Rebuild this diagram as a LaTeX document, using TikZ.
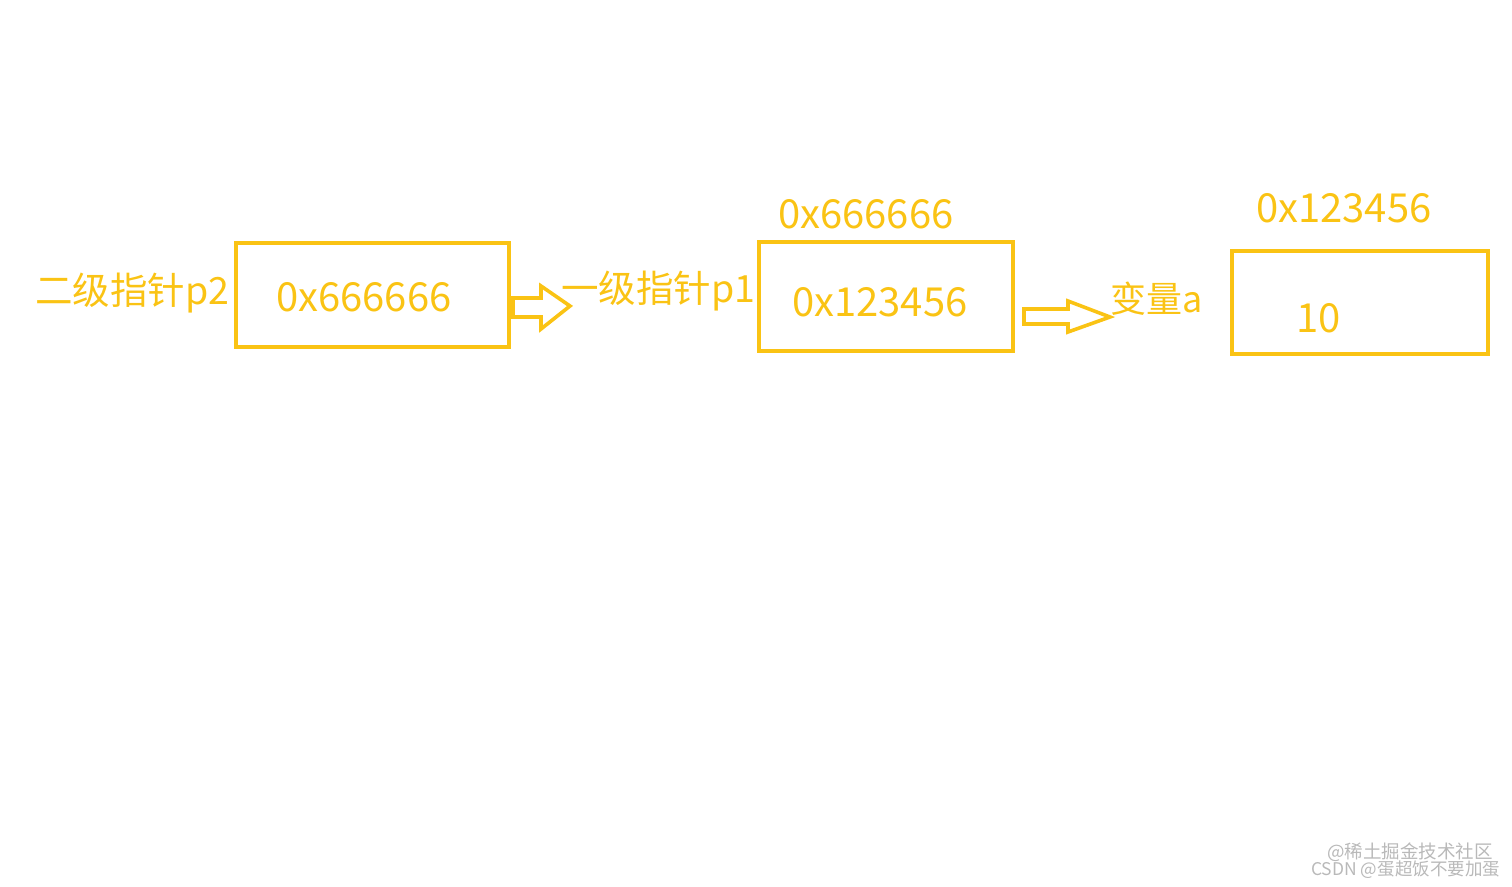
\documentclass[tikz,border=0pt]{standalone}
\usepackage{fontspec}
\setmainfont{Noto Sans CJK SC}
\newfontfamily\cjkf{Noto Sans CJK SC}
\definecolor{ylw}{RGB}{250,195,20}
\definecolor{wm}{RGB}{185,185,185}
\begin{document}
\begin{tikzpicture}[x=1pt,y=-1pt,
  box/.style={draw=ylw,line width=3.6pt},
  lbl/.style={text=ylw,inner sep=0pt,anchor=base west,font=\fontsize{40}{40}\selectfont},
  cjl/.style={lbl,font=\fontsize{37.5}{37.5}\selectfont},
  blk/.style={draw=ylw,line width=3.6pt,line join=miter,fill=white},
  wmk/.style={text=wm,inner sep=0pt,anchor=base west,font=\fontsize{17.5}{17.5}\selectfont}]
\useasboundingbox (0,0) rectangle (1512,886);
% boxes
\draw[box] (236,243) rectangle (509,347);
\draw[box] (759,242) rectangle (1013,351);
\draw[box] (1232,251) rectangle (1488,354);
% labels
\node[cjl] (p2) at (35,304) {二级指针p2};
\node[lbl] (v1) at (276,311) {0x666666};
\node[cjl] (p1) at (561,302) {一级指针p1};
\node[lbl] (a2) at (778,228) {0x666666};
\node[lbl] (v2) at (792,316) {0x123456};
\node[lbl,font=\fontsize{36}{36}\selectfont] (va) at (1110,312) {变量a};
\node[lbl] (a3) at (1256,222) {0x123456};
\node[lbl] (v3) at (1296,332) {10};
% block arrows
\draw[blk] (513,298) -- (541,298) -- (541,286) -- (570,306) -- (541,329) -- (541,317) -- (513,317) -- cycle;
\draw[blk] (1024,309) -- (1068,309) -- (1068,301) -- (1110,317) -- (1068,332) -- (1068,324) -- (1024,324) -- cycle;
% watermark
\node[wmk,font=\fontsize{18.5}{18.5}\selectfont] (w1) at (1327,858) {@稀土掘金技术社区};
\node[wmk] (w2) at (1311,875) {CSDN @蛋超饭不要加蛋};
\end{tikzpicture}
\end{document}
